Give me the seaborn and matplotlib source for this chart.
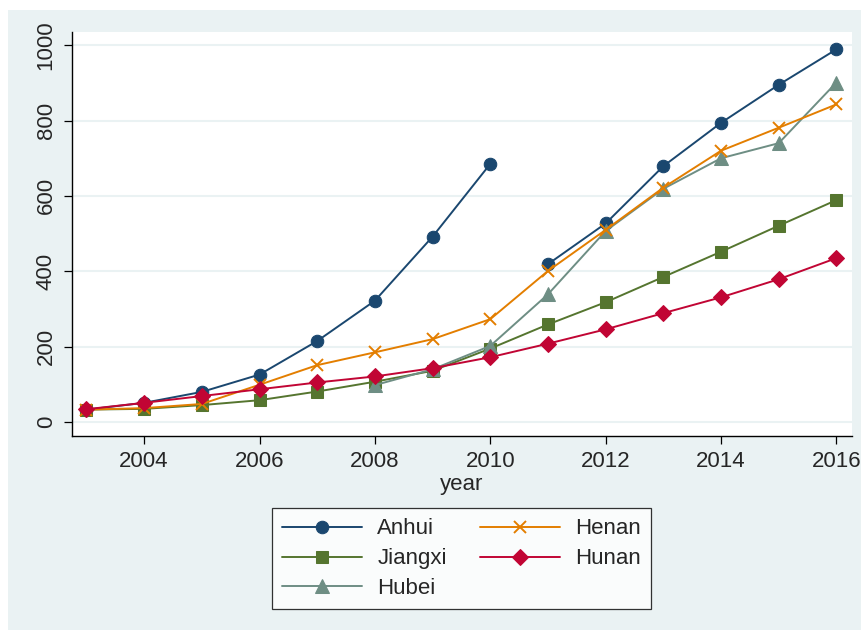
import numpy as np
import pandas as pd
import matplotlib.pyplot as plt
import matplotlib.patches as mpatches
import seaborn as sns

# --- data ---
years = list(range(2003, 2017))
anhui = [33, 51, 80, 126, 215, 322, 492, 685, 419, 527, 679, 794, 895, 989]
jiangxi = [33, 35, 45, 58, 81, 107, 136, 195, 259, 318, 385, 452, 521, 589]
hubei = [None, None, None, None, None, 98, 140, 202, 339, 507, 619, 700, 740, 901]
henan = [33, 37, 48, 99, 151, 185, 220, 273, 401, 510, 622, 720, 781, 843]
hunan = [34, 51, 69, 87, 105, 121, 143, 172, 208, 246, 289, 331, 379, 435]
anhui_break = 2010  # the Anhui line is not joined between 2010 and 2011

series = {"Anhui": anhui, "Jiangxi": jiangxi, "Hubei": hubei,
          "Henan": henan, "Hunan": hunan}
rows = []
for name, vals in series.items():
    for yr, v in zip(years, vals):
        seg = 1 if (name == "Anhui" and yr > anhui_break) else 0
        rows.append((name, yr, v, seg))
df = pd.DataFrame(rows, columns=["province", "year", "value", "segment"]).dropna()

# style per series (Stata-like scheme)
styles = {
    "Anhui":   dict(color="#1A476F", marker="o", markersize=9),
    "Jiangxi": dict(color="#55752F", marker="s", markersize=8.5),
    "Hubei":   dict(color="#6E8E84", marker="^", markersize=9.5),
    "Henan":   dict(color="#E37E00", marker="x", markersize=8.5, markeredgewidth=1.4),
    "Hunan":   dict(color="#C10534", marker="D", markersize=8.5),
}

sns.set_theme(style="white")
plt.rcParams["font.family"] = ["Liberation Sans", "DejaVu Sans"]

bg = "#EAF2F3"
fig = plt.figure(figsize=(8.61, 6.3), dpi=100, facecolor="white")
fig.patches.append(mpatches.Rectangle((8 / 861, -0.01), 1, 1.01 - 10 / 630,
                                      transform=fig.transFigure,
                                      facecolor=bg, edgecolor="none", zorder=-10))
ax = fig.add_axes([72 / 861, (630 - 436) / 630, (852 - 72) / 861, (436 - 32) / 630])
ax.set_facecolor("white")

for name in series:
    sub = df[df["province"] == name]
    sns.lineplot(data=sub, x="year", y="value", units="segment", estimator=None,
                 linewidth=1.4, markeredgecolor=styles[name]["color"],
                 label=name, ax=ax, **styles[name])

ax.set_xlim(2002.75, 2016.27)
ax.set_ylim(-37, 1035)
ax.set_xticks(range(2004, 2017, 2))
ax.set_yticks(range(0, 1001, 200))
ax.grid(axis="y", color=bg, linewidth=1.5)
ax.grid(axis="x", visible=False)
for s in ["top", "right"]:
    ax.spines[s].set_visible(False)
for s in ["left", "bottom"]:
    ax.spines[s].set_color("black")
    ax.spines[s].set_linewidth(1.0)
ax.tick_params(axis="both", which="major", direction="out", length=6, width=0.9,
               color="black", labelsize=16, pad=5, left=True, bottom=True)
for lab in ax.get_yticklabels():
    lab.set_rotation(90)
    lab.set_va("center")
ax.set_xlabel("year", fontsize=16, labelpad=1)
ax.set_ylabel("")

# legend: one entry per province, two columns
handles, labels = ax.get_legend_handles_labels()
seen = {}
for h, l in zip(handles, labels):
    if l not in seen:
        seen[l] = h
if ax.get_legend():
    ax.get_legend().remove()
leg = fig.legend([seen[n] for n in series], list(series), ncol=2,
                 loc="center", bbox_to_anchor=(0.536, 0.113),
                 fontsize=16, frameon=True, fancybox=False,
                 handlelength=3.6, handletextpad=0.7, columnspacing=1.5,
                 labelspacing=0.4, borderpad=0.45)
leg.get_frame().set_edgecolor("black")
leg.get_frame().set_linewidth(0.9)
leg.get_frame().set_facecolor("white")

fig.savefig("out.png", dpi=100, facecolor="white")
